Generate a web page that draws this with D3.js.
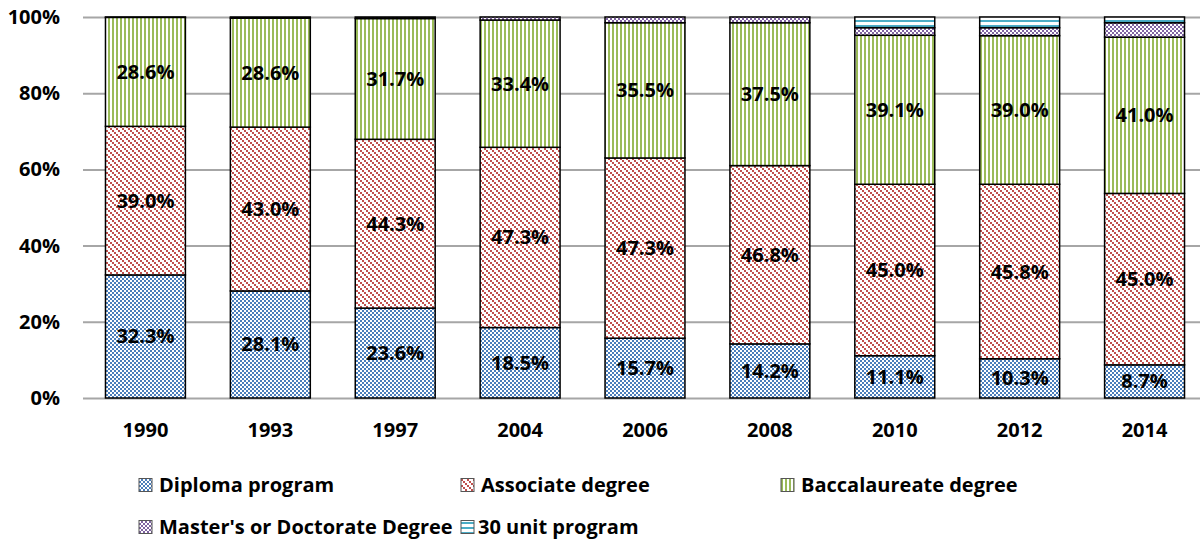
<!DOCTYPE html>
<html>
<head>
<meta charset="utf-8">
<script src="https://cdn.jsdelivr.net/npm/d3@7.9.0/dist/d3.min.js"></script>
<style>
  body { margin: 0; background: #fff; }
  svg { display: block; font-family: "Open Sans", sans-serif; font-weight: 700; }
</style>
</head>
<body>
<svg id="chart" width="1200" height="541"></svg>
<script>
// values (percent)
const years = ['1990', '1993', '1997', '2004', '2006', '2008', '2010', '2012', '2014'];
const diploma = [32.3, 28.1, 23.6, 18.5, 15.7, 14.2, 11.1, 10.3, 8.7];
const associate = [39.0, 43.0, 44.3, 47.3, 47.3, 46.8, 45.0, 45.8, 45.0];
const baccalaureate = [28.6, 28.6, 31.7, 33.4, 35.5, 37.5, 39.1, 39.0, 41.0];
const masters = [0.1, 0.3, 0.4, 0.8, 1.5, 1.5, 2.0, 2.1, 3.8];
const thirtyUnit = [0, 0, 0, 0, 0, 0, 2.8, 2.8, 1.5];
const yTicks = [0, 20, 40, 60, 80, 100];

const seriesNames = ['Diploma program', 'Associate degree', 'Baccalaureate degree',
  "Master's or Doctorate Degree", '30 unit program'];
const seriesKeys = ['diploma', 'associate', 'baccalaureate', 'masters', 'thirty'];
const labelled = ['diploma', 'associate', 'baccalaureate'];

const rows = years.map((y, i) => ({
  year: y,
  diploma: diploma[i],
  associate: associate[i],
  baccalaureate: baccalaureate[i],
  masters: masters[i],
  thirty: thirtyUnit[i],
}));

const svg = d3.select('#chart');
const fontSize = 20;

// fill patterns (office style)
const defs = svg.append('defs');

function pattern(id, w, h) {
  const p = defs.append('pattern')
    .attr('id', id)
    .attr('patternUnits', 'userSpaceOnUse')
    .attr('width', w)
    .attr('height', h);
  p.append('rect').attr('width', w).attr('height', h).attr('fill', '#fff');
  return p;
}

// small checker - diploma
let p = pattern('p-diploma', 4, 4);
p.append('rect').attr('x', 0).attr('y', 0).attr('width', 2).attr('height', 2).attr('fill', '#4A7EBB');
p.append('rect').attr('x', 2).attr('y', 2).attr('width', 2).attr('height', 2).attr('fill', '#4A7EBB');

// downward diagonal - associate
p = pattern('p-associate', 6, 6);
[0, 2, 4].forEach(k => {
  p.append('rect').attr('x', k).attr('y', k).attr('width', 2).attr('height', 2).attr('fill', '#C0504D');
});

// vertical stripes - baccalaureate
p = pattern('p-baccalaureate', 4, 4);
p.append('rect').attr('x', 0).attr('y', 0).attr('width', 2).attr('height', 4).attr('fill', '#9BBB59');

// checker - masters
p = pattern('p-masters', 4, 4);
p.append('rect').attr('x', 0).attr('y', 0).attr('width', 2).attr('height', 2).attr('fill', '#8064A2');
p.append('rect').attr('x', 2).attr('y', 2).attr('width', 2).attr('height', 2).attr('fill', '#8064A2');

// horizontal stripes - 30 unit
p = pattern('p-thirty', 5, 5);
p.append('rect').attr('x', 0).attr('y', 0).attr('width', 5).attr('height', 2).attr('fill', '#4BACC6');

const x = d3.scaleBand()
  .domain(years)
  .range([83, 1207])
  .paddingInner(0.36)
  .paddingOuter(0.18);

const y = d3.scaleLinear()
  .domain([0, 100])
  .range([398, 17]);

// gridlines + y labels
const yAxis = svg.append('g')
  .attr('transform', 'translate(83,0)')
  .call(d3.axisLeft(y).tickValues(yTicks).tickFormat(d => d + '%').tickSize(-(1200 - 83)).tickPadding(23))
  .attr('font-family', null)
  .attr('font-size', fontSize);
yAxis.select('.domain').remove();
yAxis.selectAll('line').attr('stroke', '#a6a6a6').attr('stroke-width', 2);
yAxis.selectAll('text').attr('fill', '#000');

// x labels
const xAxis = svg.append('g')
  .attr('transform', 'translate(0,398)')
  .call(d3.axisBottom(x).tickSize(0).tickPadding(25))
  .attr('font-family', null)
  .attr('font-size', fontSize);
xAxis.select('.domain').remove();
xAxis.selectAll('text').attr('fill', '#000');

const stack = d3.stack().keys(seriesKeys);
const stacked = stack(rows);

const layers = svg.append('g')
  .selectAll('g')
  .data(stacked)
  .join('g')
  .attr('fill', d => `url(#p-${d.key})`);

layers.selectAll('rect')
  .data(d => d.filter(s => s[1] - s[0] > 0))
  .join('rect')
  .attr('x', d => x(d.data.year))
  .attr('width', x.bandwidth())
  .attr('y', d => y(d[1]))
  .attr('height', d => y(d[0]) - y(d[1]))
  .attr('stroke', '#000')
  .attr('stroke-width', 1.5);

// value labels
const labels = svg.append('g');
stacked.filter(s => labelled.includes(s.key)).forEach(s => {
  labels.selectAll(null)
    .data(s)
    .join('text')
    .attr('x', d => x(d.data.year) + x.bandwidth() / 2)
    .attr('y', d => y((d[0] + d[1]) / 2))
    .attr('dy', '0.35em')
    .attr('text-anchor', 'middle')
    .attr('font-size', fontSize)
    .attr('fill', '#000')
    .text(d => (d[1] - d[0]).toFixed(1) + '%');
});

// legend
const legendPos = [
  { x: 139, y: 485 }, { x: 461, y: 485 }, { x: 781, y: 485 },
  { x: 139, y: 527 }, { x: 461, y: 527 },
];
const legend = svg.append('g')
  .selectAll('g')
  .data(seriesKeys)
  .join('g')
  .attr('transform', (d, i) => `translate(${legendPos[i].x},${legendPos[i].y})`);

legend.append('rect')
  .attr('x', 0)
  .attr('y', -6.5)
  .attr('width', 13)
  .attr('height', 13)
  .attr('fill', d => `url(#p-${d})`)
  .attr('stroke', '#555')
  .attr('stroke-width', 1);

legend.append('text')
  .attr('x', (d, i) => i === 4 ? 17 : 20)
  .attr('dy', '0.35em')
  .attr('font-size', fontSize)
  .attr('fill', '#000')
  .text((d, i) => seriesNames[i]);
</script>
</body>
</html>
